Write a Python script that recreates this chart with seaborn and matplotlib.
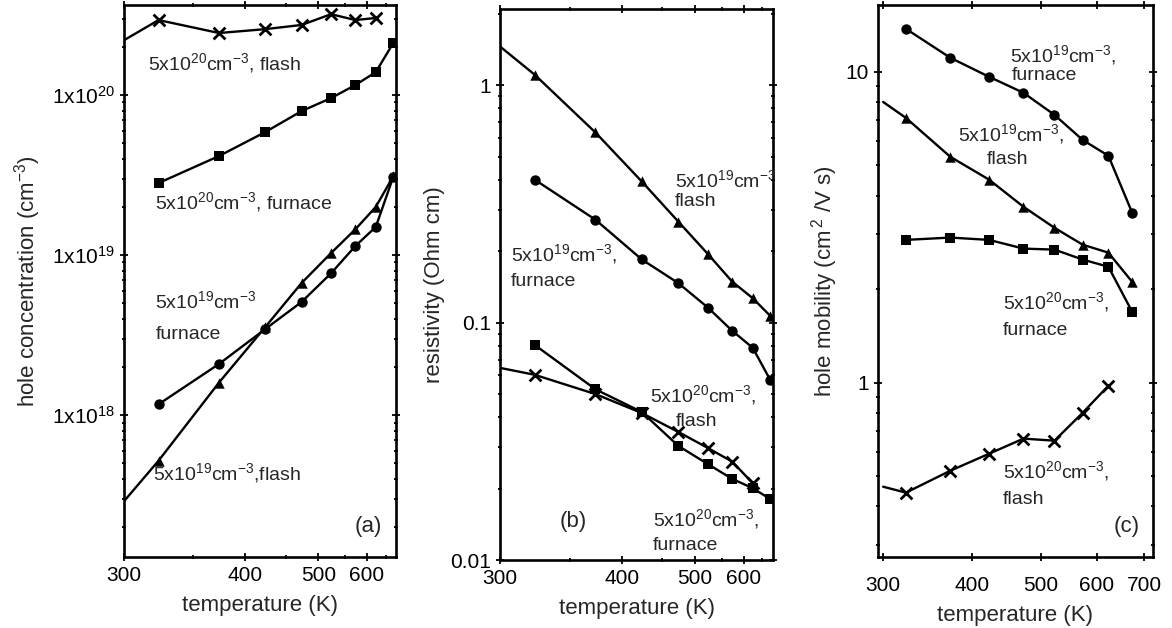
import numpy as np
import seaborn as sns
import matplotlib.pyplot as plt
from matplotlib.ticker import FixedLocator, FixedFormatter, NullFormatter

sns.set_theme(style="ticks")
plt.rcParams['font.family'] = ['Liberation Sans', 'DejaVu Sans']
plt.rcParams['mathtext.fontset'] = 'custom'
plt.rcParams['mathtext.rm'] = 'Liberation Sans'
plt.rcParams['mathtext.default'] = 'regular'

# measurement temperatures (K)
temps = [323, 373, 423, 473, 523, 573, 623, 673]

# (a) hole concentration (cm^-3)
conc_20_flash = [2.94e20, 2.44e20, 2.58e20, 2.74e20, 3.2e20, 2.94e20, 3.03e20]
conc_20_flash_start = 2.2e20
conc_20_furnace = [2.82e19, 4.16e19, 5.87e19, 7.94e19, 9.57e19, 1.155e20, 1.39e20, 2.11e20]
conc_19_furnace = [1.17e18, 2.09e18, 3.45e18, 5.1e18, 7.7e18, 1.14e19, 1.5e19, 3.07e19]
conc_19_flash = [5.2e17, 1.6e18, 3.55e18, 6.7e18, 1.03e19, 1.45e19, 2.0e19, 3.1e19]
conc_19_flash_start = 2.9e17

# (b) resistivity (Ohm cm)
res_19_flash = [1.11, 0.634, 0.394, 0.267, 0.195, 0.149, 0.127, 0.107]
res_19_flash_start = 1.46
res_19_furnace = [0.401, 0.272, 0.185, 0.147, 0.116, 0.0925, 0.0785, 0.0575]
res_20_furnace = [0.0807, 0.0525, 0.0421, 0.0303, 0.0254, 0.022, 0.0201, 0.0181]
res_20_flash = [0.0604, 0.0501, 0.0417, 0.0347, 0.0297, 0.026, 0.0211]
res_20_flash_start = 0.0646

# (c) hole mobility (cm^2/V s)
mob_19_furnace = [13.75, 11.1, 9.64, 8.56, 7.27, 6.04, 5.37, 3.52]
mob_19_flash = [7.11, 5.33, 4.5, 3.68, 3.15, 2.78, 2.62, 2.11]
mob_19_flash_start = 8.0
mob_20_furnace = [2.88, 2.93, 2.88, 2.70, 2.68, 2.49, 2.36, 1.69]
mob_20_flash = [0.443, 0.521, 0.591, 0.661, 0.651, 0.80, 0.978]
mob_20_flash_start = 0.463

T_EDGE = 300
FS = 14


def series(ax, y, marker, start=None, ms=7.5):
    t = temps[:len(y)]
    if start is not None:
        lt, ly = [T_EDGE] + t, [start] + y
    else:
        lt, ly = t, y
    sns.lineplot(x=lt, y=ly, ax=ax, color='black', lw=1.7, sort=False, estimator=None)
    sns.scatterplot(x=t, y=y, ax=ax, color='black', marker=marker, s=ms ** 2,
                    linewidth=2.0 if marker == 'x' else 0, edgecolor='black', zorder=3)


def style(ax):
    for sp in ax.spines.values():
        sp.set_linewidth(1.9)
        sp.set_color('black')
    ax.tick_params(which='both', direction='inout', top=True, right=True,
                   labelsize=FS + 1, colors='black', width=1.3)
    ax.tick_params(which='major', length=6)
    ax.tick_params(which='minor', length=3.5)
    ax.set_xlabel('temperature (K)', fontsize=FS + 2, labelpad=7)


def inv_scale(ax):
    ax.set_xscale('function', functions=(lambda t: -1000.0 / t, lambda u: -1000.0 / u))
    ax.set_xlim(300, 682)
    ax.xaxis.set_major_locator(FixedLocator([300, 400, 500, 600]))
    ax.xaxis.set_major_formatter(FixedFormatter(['300', '400', '500', '600']))
    ax.xaxis.set_minor_locator(FixedLocator([350, 450, 550, 650]))
    ax.xaxis.set_minor_formatter(NullFormatter())


def note(ax, x, y, s, ha='left', fs=FS):
    ax.text(x, y, s, transform=ax.transAxes, fontsize=fs, ha=ha, va='center')


fig = plt.figure(figsize=(11.72, 6.28), dpi=100)
ax_a = fig.add_axes([0.1058, 0.113, 0.2321, 0.879])
ax_b = fig.add_axes([0.4266, 0.108, 0.2330, 0.8777])
ax_c = fig.add_axes([0.7491, 0.113, 0.2347, 0.879])

# ---- (a)
series(ax_a, conc_20_flash, 'x', conc_20_flash_start, ms=8.5)
series(ax_a, conc_20_furnace, 's')
series(ax_a, conc_19_furnace, 'o')
series(ax_a, conc_19_flash, '^', conc_19_flash_start)
ax_a.set_yscale('log')
ax_a.set_ylim(1.3e17, 3.65e20)
inv_scale(ax_a)
ax_a.set_yticks([1e18, 1e19, 1e20])
ax_a.set_yticklabels(['1x10$^{18}$', '1x10$^{19}$', '1x10$^{20}$'])
ax_a.yaxis.set_minor_formatter(NullFormatter())
ax_a.set_ylabel('hole concentration (cm$^{-3}$)', fontsize=FS + 2, labelpad=6)
style(ax_a)
note(ax_a, 0.09, 0.894, '5x10$^{20}$cm$^{-3}$, flash')
note(ax_a, 0.115, 0.643, '5x10$^{20}$cm$^{-3}$, furnace')
note(ax_a, 0.115, 0.463, '5x10$^{19}$cm$^{-3}$')
note(ax_a, 0.115, 0.404, 'furnace')
note(ax_a, 0.108, 0.152, '5x10$^{19}$cm$^{-3}$,flash')
note(ax_a, 0.95, 0.055, '(a)', ha='right', fs=FS + 2)

# ---- (b)
series(ax_b, res_19_flash, '^', res_19_flash_start)
series(ax_b, res_19_furnace, 'o')
series(ax_b, res_20_furnace, 's')
series(ax_b, res_20_flash, 'x', res_20_flash_start, ms=8.5)
ax_b.set_yscale('log')
ax_b.set_ylim(0.01, 2.1)
inv_scale(ax_b)
ax_b.set_yticks([0.01, 0.1, 1])
ax_b.set_yticklabels(['0.01', '0.1', '1'])
ax_b.yaxis.set_minor_formatter(NullFormatter())
ax_b.set_ylabel('resistivity (Ohm cm)', fontsize=FS + 2, labelpad=4)
style(ax_b)
note(ax_b, 0.64, 0.69, '5x10$^{19}$cm$^{-3}$')
note(ax_b, 0.64, 0.65, 'flash')
note(ax_b, 0.04, 0.555, '5x10$^{19}$cm$^{-3}$,')
note(ax_b, 0.04, 0.505, 'furnace')
note(ax_b, 0.55, 0.30, '5x10$^{20}$cm$^{-3}$,')
note(ax_b, 0.645, 0.252, 'flash')
note(ax_b, 0.56, 0.075, '5x10$^{20}$cm$^{-3}$,')
note(ax_b, 0.56, 0.027, 'furnace')
note(ax_b, 0.22, 0.07, '(b)', fs=FS + 2)

# ---- (c)
series(ax_c, mob_19_furnace, 'o')
series(ax_c, mob_19_flash, '^', mob_19_flash_start)
series(ax_c, mob_20_furnace, 's')
series(ax_c, mob_20_flash, 'x', mob_20_flash_start, ms=8.5)
ax_c.set_yscale('log')
ax_c.set_ylim(0.275, 16.4)
ax_c.set_xscale('log')
ax_c.set_xlim(295, 720)
ax_c.xaxis.set_major_locator(FixedLocator([300, 400, 500, 600, 700]))
ax_c.xaxis.set_major_formatter(FixedFormatter(['300', '400', '500', '600', '700']))
ax_c.xaxis.set_minor_locator(FixedLocator([]))
ax_c.set_yticks([1, 10])
ax_c.set_yticklabels(['1', '10'])
ax_c.yaxis.set_minor_formatter(NullFormatter())
ax_c.set_ylabel('hole mobility (cm$^{\\,2}$ /V s)', fontsize=FS + 2, labelpad=4)
style(ax_c)
ax_c.tick_params(axis='x', which='major', pad=11)
note(ax_c, 0.48, 0.91, '5x10$^{19}$cm$^{-3}$,')
note(ax_c, 0.485, 0.873, 'furnace')
note(ax_c, 0.29, 0.766, '5x10$^{19}$cm$^{-3}$,')
note(ax_c, 0.395, 0.72, 'flash')
note(ax_c, 0.455, 0.462, '5x10$^{20}$cm$^{-3}$,')
note(ax_c, 0.455, 0.41, 'furnace')
note(ax_c, 0.455, 0.155, '5x10$^{20}$cm$^{-3}$,')
note(ax_c, 0.455, 0.104, 'flash')
note(ax_c, 0.95, 0.055, '(c)', ha='right', fs=FS + 2)

fig.savefig('out.png', dpi=100)
